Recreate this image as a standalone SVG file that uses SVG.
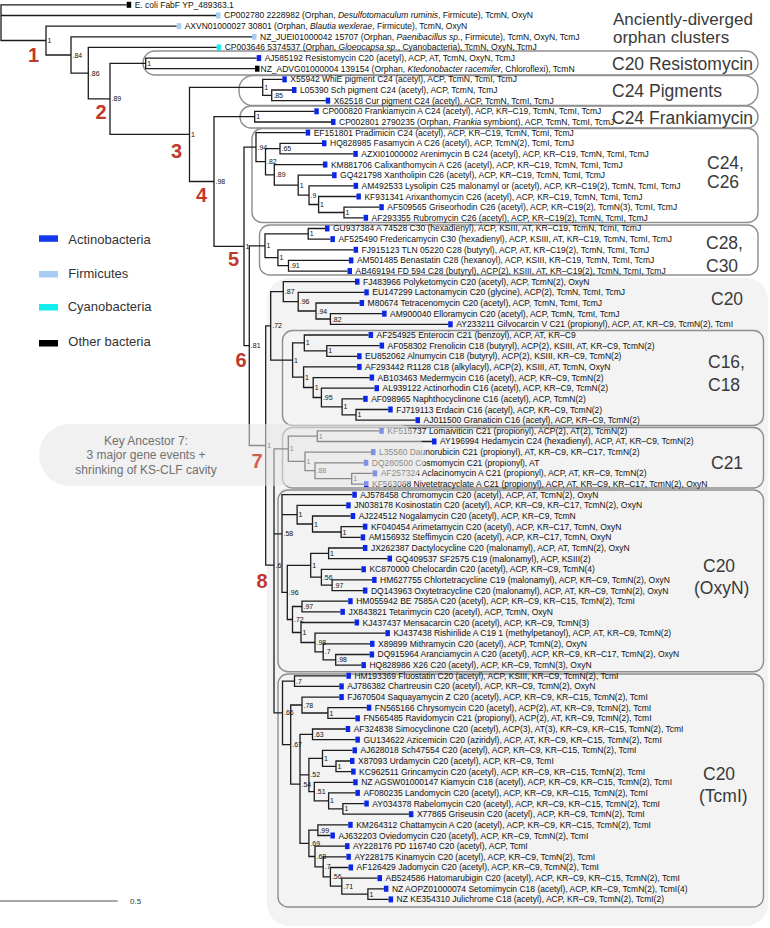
<svg xmlns="http://www.w3.org/2000/svg" width="770" height="928" viewBox="0 0 770 928">
<style>
.t{font-family:"Liberation Sans",Arial,sans-serif;font-size:8.5px;fill:#111}
.s{font-family:"Liberation Sans",Arial,sans-serif;font-size:7px;fill:#111}
.r{font-family:"Liberation Sans",Arial,sans-serif;font-size:20px;font-weight:bold;fill:#c0392b;text-anchor:middle}
.g{font-family:"Liberation Sans",Arial,sans-serif;font-size:17.5px;fill:#3a3a3a}
.lg{font-family:"Liberation Sans",Arial,sans-serif;font-size:13px;fill:#333}
.box{fill:none;stroke:#8e8e8e;stroke-width:1.4}
.br{fill:none;stroke:#1c1c1c;stroke-width:1.3}
.a{fill:#0a26e6}.f{fill:#a9ccf2}.c{fill:#14eeee}.k{fill:#000}
</style>
<rect x="267" y="278" width="501" height="648" rx="22" fill="#f3f3f3"/>
<g id="clades">
<rect class="box" x="143" y="51" width="615" height="24" rx="12"/>
<rect class="box" x="239" y="75.5" width="519" height="30" rx="14"/>
<rect class="box" x="240" y="106" width="518" height="22" rx="11"/>
<rect class="box" x="252" y="128.5" width="506" height="94" rx="10"/>
<rect class="box" x="259.5" y="225" width="498.5" height="50" rx="10"/>
<rect class="box" x="282.5" y="330.5" width="481" height="95" rx="10"/>
<rect class="box" x="282.5" y="427.5" width="481" height="60.5" rx="10"/>
<rect class="box" x="278" y="490" width="485.5" height="181.7" rx="10"/>
<rect class="box" x="278" y="674" width="485.5" height="233" rx="10"/>
</g>
<g id="connectors" class="br">
<path d="M126.7,4.8H1V40.5H46M1,15.5H216"/>
<path d="M176.7,26.1H46V55H71"/>
<path d="M252,36.8H71V73.2H88.3"/>
<path d="M216.7,47.4H88.3V98.9H110"/>
<path d="M145.7,63.4H110V134.4H189.5"/>
<path d="M256.7,58.1H145.7V68.7H255"/>
<path d="M262.7,87.3H189.5V181.5H214"/>
<path d="M282.3,79.4H262.7V95.3H271.7"/>
<path d="M292,90H271.7V100.7H325.7"/>
<path d="M254.7,116.6H214V246.4H244"/>
<path d="M314.3,111.3H254.7V122H331"/>
<path d="M256,147.2H244V345.6H249.3"/>
<path d="M305.7,132.6H256V161.7H265.5"/>
<path d="M280,148.6H265.5V174.9H274.3"/>
<path d="M322,143.3H280V153.9H353.3"/>
<path d="M322.9,164.6H274.3V185.2H298.2"/>
<path d="M332.1,175.2H298.2V195.2H309"/>
<path d="M353.6,185.9H309V204.5H318.6"/>
<path d="M356.4,196.5H318.6V212.5H344"/>
<path d="M379.3,207.2H344V217.8H363.6"/>
<path d="M265,245.8H249.3V445.5H265.7"/>
<path d="M308.2,233.8H265V257.7H277.9"/>
<path d="M325,228.5H308.2V239.1H330.4"/>
<path d="M353.6,249.8H277.9V265.7H288.5"/>
<path d="M348.9,260.4H288.5V271.1H347.5"/>
<path d="M270.7,325.9H265.7V565.2H274"/>
<path d="M283.3,291.7H270.7V360.1H292.6"/>
<path d="M355,281.7H283.3V301.7H298.2"/>
<path d="M364.3,292.4H298.2V311H316"/>
<path d="M359.6,303H316V319H330.4"/>
<path d="M382.1,313.7H330.4V324.3H448.2"/>
<path d="M304.3,342.9H292.6V377.2H303.6"/>
<path d="M368.6,335H304.3V350.9H326.8"/>
<path d="M379.6,345.6H326.8V356.3H357.1"/>
<path d="M357.1,366.9H303.6V387.5H313.2"/>
<path d="M369.6,377.6H313.2V397.5H321.4"/>
<path d="M374.5,388.2H321.4V406.8H342.1"/>
<path d="M363.2,398.9H342.1V414.8H356"/>
<path d="M388.2,409.5H356V420.2H415.5"/>
<path d="M288.3,448.8H274V712.8H282.5M274,533.9H282"/>
<path d="M317.3,436.1H288.3V461.4H305"/>
<path d="M379.3,430.8H317.3V441.5H432"/>
<path d="M371,452.1H305V470.7H315"/>
<path d="M363.8,462.8H315V478.7H351.7"/>
<path d="M372.7,473.4H351.7V484.1H364"/>
<path d="M352.3,494.7H282V592.4H287.3M282,514.7H297.1"/>
<path d="M346.2,505.4H297.1V524H312.5"/>
<path d="M350.7,516H312.5V532H341.1"/>
<path d="M362.9,526.7H341.1V537.3H360.7"/>
<path d="M310.7,565.3H287.3V619.5H292.5"/>
<path d="M328.6,553.3H310.7V577.2H321.4"/>
<path d="M362.9,548H328.6V558.6H387.5"/>
<path d="M361.4,569.3H321.4V585.2H332.1"/>
<path d="M372.1,579.9H332.1V590.6H362.9"/>
<path d="M302,606.5H292.5V632.5H301"/>
<path d="M348.2,601.2H302V611.9H340.4"/>
<path d="M354.6,622.5H301V642.5H315"/>
<path d="M385.4,633.2H315V651.8H323.2"/>
<path d="M370,643.8H323.2V659.8H335.7"/>
<path d="M369.6,654.5H335.7V665.1H361.4"/>
<path d="M294.5,681.1H282.5V744.6H290.7"/>
<path d="M346.4,675.8H294.5V686.4H339.3"/>
<path d="M302,705H290.7V784.2H300"/>
<path d="M339.3,697.1H302V713H327.9"/>
<path d="M366.8,707.7H327.9V718.4H355.4"/>
<path d="M312.5,734.3H300V843.3H308.9M300,774.9H308.9"/>
<path d="M345.7,729H312.5V739.7H355.4"/>
<path d="M322.5,758.3H308.9V791.6H314.3"/>
<path d="M352.5,750.3H322.5V766.3H336"/>
<path d="M350,761H336V771.6H351.1"/>
<path d="M353.2,782.3H314.3V800.9H328.6"/>
<path d="M355.4,792.9H328.6V808.9H342.9"/>
<path d="M364.3,803.6H342.9V814.2H408.9"/>
<path d="M317.9,830.2H308.9V856.5H315"/>
<path d="M348.2,824.9H317.9V835.5H330.4"/>
<path d="M345,846.2H315V866.8H323.2"/>
<path d="M346.4,856.8H323.2V876.8H330.4"/>
<path d="M348.6,867.5H330.4V886.1H341.8"/>
<path d="M377.5,878.1H341.8V894.1H367.9"/>
<path d="M383.9,888.8H367.9V899.4H388.6"/>
</g>
<g id="leaves">
<g id="n0"><rect class="k" x="126.7" y="1.8" width="4.5" height="6"/><text class="t" x="134.7" y="7.8">E. coli FabF YP_489363.1</text></g>
<g id="n1"><rect class="f" x="216" y="12.45" width="4.5" height="6"/><text class="t" x="224" y="18.45">CP002780 2228982 (Orphan, <tspan font-style="italic">Desulfotomaculum ruminis</tspan>, Firmicute), TcmN, OxyN</text></g>
<g id="n2"><rect class="f" x="176.7" y="23.1" width="4.5" height="6"/><text class="t" x="184.7" y="29.1">AXVN01000027 30801 (Orphan, <tspan font-style="italic">Blautia wexlerae</tspan>, Firmicute), TcmN, OxyN</text></g>
<g id="n3"><rect class="f" x="252" y="33.75" width="4.5" height="6"/><text class="t" x="260" y="39.75">NZ_JUEI01000042 15707 (Orphan, <tspan font-style="italic">Paenibacillus sp.</tspan>, Firmicute), TcmN, OxyN, TcmJ</text></g>
<g id="n4"><rect class="c" x="216.7" y="44.4" width="4.5" height="6"/><text class="t" x="224.7" y="50.4">CP003646 5374537 (Orphan, <tspan font-style="italic">Gloeocapsa sp.</tspan>, Cyanobacteria), TcmN, OxyN, TcmJ</text></g>
<g id="n5"><rect class="a" x="256.7" y="55.05" width="4.5" height="6"/><text class="t" x="264.7" y="61.05">AJ585192 Resistomycin C20 (acetyl), ACP, AT, TcmN, OxyN, TcmJ</text></g>
<g id="n6"><rect class="k" x="255" y="65.7" width="4.5" height="6"/><text class="t" x="260.5" y="71.7">NZ_ADVG01000004 139154 (Orphan, <tspan font-style="italic">Ktedonobacter racemifer</tspan>, Chloroflexi), TcmN</text></g>
<g id="n7"><rect class="a" x="282.3" y="76.35" width="4.5" height="6"/><text class="t" x="290.3" y="82.35">X55942 WhiE pigment C24 (acetyl), ACP, TcmN, TcmI, TcmJ</text></g>
<g id="n8"><rect class="a" x="292" y="87" width="4.5" height="6"/><text class="t" x="300" y="93">L05390 Sch pigment C24 (acetyl), ACP, TcmN, TcmJ</text></g>
<g id="n9"><rect class="a" x="325.7" y="97.65" width="4.5" height="6"/><text class="t" x="333.7" y="103.65">X62518 Cur pigment C24 (acetyl), ACP, TcmN, TcmI, TcmJ</text></g>
<g id="n10"><rect class="a" x="314.3" y="108.3" width="4.5" height="6"/><text class="t" x="322.3" y="114.3">CP000820 Frankiamycin A C24 (acetyl), ACP, KR–C19, TcmN, TcmI, TcmJ</text></g>
<g id="n11"><rect class="a" x="331" y="118.95" width="4.5" height="6"/><text class="t" x="339" y="124.95">CP002801 2790235 (Orphan, <tspan font-style="italic">Frankia</tspan> symbiont), ACP, TcmN, TcmI, TcmJ</text></g>
<g id="n12"><rect class="a" x="305.7" y="129.6" width="4.5" height="6"/><text class="t" x="313.7" y="135.6">EF151801 Pradimicin C24 (acetyl), ACP, KR–C19, TcmN, TcmI, TcmJ</text></g>
<g id="n13"><rect class="a" x="322" y="140.25" width="4.5" height="6"/><text class="t" x="330" y="146.25">HQ828985 Fasamycin A C26 (acetyl), ACP, TcmN(2), TcmI, TcmJ</text></g>
<g id="n14"><rect class="a" x="353.3" y="150.9" width="4.5" height="6"/><text class="t" x="361.3" y="156.9">AZXI01000002 Arenimycin B C24 (acetyl), ACP, KR–C19, TcmN, TcmI, TcmJ</text></g>
<g id="n15"><rect class="a" x="322.9" y="161.55" width="4.5" height="6"/><text class="t" x="330.9" y="167.55">KM881706 Calixanthomycin A C26 (acetyl), ACP, KR–C19, TcmN, TcmI, TcmJ</text></g>
<g id="n16"><rect class="a" x="332.1" y="172.2" width="4.5" height="6"/><text class="t" x="340.1" y="178.2">GQ421798 Xantholipin C26 (acetyl), ACP, KR–C19, TcmN, TcmI, TcmJ</text></g>
<g id="n17"><rect class="a" x="353.6" y="182.85" width="4.5" height="6"/><text class="t" x="361.6" y="188.85">AM492533 Lysolipin C25 malonamyl or (acetyl), ACP, KR–C19(2), TcmN, TcmI, TcmJ</text></g>
<g id="n18"><rect class="a" x="356.4" y="193.5" width="4.5" height="6"/><text class="t" x="364.4" y="199.5">KF931341 Arixanthomycin C26 (acetyl), ACP, KR–C19, TcmN, TcmI, TcmJ</text></g>
<g id="n19"><rect class="a" x="379.3" y="204.15" width="4.5" height="6"/><text class="t" x="387.3" y="210.15">AF509565 Griseorhodin C26 (acetyl), ACP, KR–C19(2), TcmN(3), TcmI, TcmJ</text></g>
<g id="n20"><rect class="a" x="363.6" y="214.8" width="4.5" height="6"/><text class="t" x="371.6" y="220.8">AF293355 Rubromycin C26 (acetyl), ACP, KR–C19(2), TcmN, TcmI, TcmJ</text></g>
<g id="n21"><rect class="a" x="325" y="225.45" width="4.5" height="6"/><text class="t" x="333" y="231.45">GU937384 A 74528 C30 (hexadienyl), ACP, KSIII, AT, KR–C19, TcmN, TcmI, TcmJ</text></g>
<g id="n22"><rect class="a" x="330.4" y="236.1" width="4.5" height="6"/><text class="t" x="338.4" y="242.1">AF525490 Fredericamycin C30 (hexadienyl), ACP, KSIII, AT, KR–C19, TcmN, TcmI, TcmJ</text></g>
<g id="n23"><rect class="a" x="353.6" y="246.75" width="4.5" height="6"/><text class="t" x="361.6" y="252.75">FJ915123 TLN 05220 C28 (butyryl), ACP, AT, KR–C19(2), TcmN, TcmI, TcmJ</text></g>
<g id="n24"><rect class="a" x="348.9" y="257.4" width="4.5" height="6"/><text class="t" x="356.9" y="263.4">AM501485 Benastatin C28 (hexanoyl), ACP, KSIII, KR–C19, TcmN, TcmI, TcmJ</text></g>
<g id="n25"><rect class="a" x="347.5" y="268.05" width="4.5" height="6"/><text class="t" x="355.5" y="274.05">AB469194 FD 594 C28 (butyryl), ACP(2), KSIII, AT, KR–C19(2), TcmN, TcmI, TcmJ</text></g>
<g id="n26"><rect class="a" x="355" y="278.7" width="4.5" height="6"/><text class="t" x="363" y="284.7">FJ483966 Polyketomycin C20 (acetyl), ACP, TcmN(2), OxyN</text></g>
<g id="n27"><rect class="a" x="364.3" y="289.35" width="4.5" height="6"/><text class="t" x="372.3" y="295.35">EU147299 Lactonamycin C20 (glycine), ACP(2), TcmN, TcmI, TcmJ</text></g>
<g id="n28"><rect class="a" x="359.6" y="300" width="4.5" height="6"/><text class="t" x="367.6" y="306">M80674 Tetracenomycin C20 (acetyl), ACP, TcmN, TcmI, TcmJ</text></g>
<g id="n29"><rect class="a" x="382.1" y="310.65" width="4.5" height="6"/><text class="t" x="390.1" y="316.65">AM900040 Elloramycin C20 (acetyl), ACP, TcmN, TcmI, TcmJ</text></g>
<g id="n30"><rect class="a" x="448.2" y="321.3" width="4.5" height="6"/><text class="t" x="456.2" y="327.3">AY233211 Gilvocarcin V C21 (propionyl), ACP, AT, KR–C9, TcmN(2), TcmI</text></g>
<g id="n31"><rect class="a" x="368.6" y="331.95" width="4.5" height="6"/><text class="t" x="376.6" y="337.95">AF254925 Enterocin C21 (benzoyl), ACP, AT, KR–C9</text></g>
<g id="n32"><rect class="a" x="379.6" y="342.6" width="4.5" height="6"/><text class="t" x="387.6" y="348.6">AF058302 Frenolicin C18 (butyryl), ACP(2), KSIII, AT, KR–C9, TcmN(2)</text></g>
<g id="n33"><rect class="a" x="357.1" y="353.25" width="4.5" height="6"/><text class="t" x="365.1" y="359.25">EU852062 Alnumycin C18 (butyryl), ACP(2), KSIII, KR–C9, TcmN(2)</text></g>
<g id="n34"><rect class="a" x="357.1" y="363.9" width="4.5" height="6"/><text class="t" x="365.1" y="369.9">AF293442 R1128 C18 (alkylacyl), ACP(2), KSIII, AT, TcmN, OxyN</text></g>
<g id="n35"><rect class="a" x="369.6" y="374.55" width="4.5" height="6"/><text class="t" x="377.6" y="380.55">AB103463 Medermycin C16 (acetyl), ACP, KR–C9, TcmN(2)</text></g>
<g id="n36"><rect class="a" x="374.5" y="385.2" width="4.5" height="6"/><text class="t" x="382.5" y="391.2">AL939122 Actinorhodin C16 (acetyl), ACP, KR–C9, TcmN(2)</text></g>
<g id="n37"><rect class="a" x="363.2" y="395.85" width="4.5" height="6"/><text class="t" x="371.2" y="401.85">AF098965 Naphthocyclinone C16 (acetyl), ACP, TcmN(2)</text></g>
<g id="n38"><rect class="a" x="388.2" y="406.5" width="4.5" height="6"/><text class="t" x="396.2" y="412.5">FJ719113 Erdacin C16 (acetyl), ACP, KR–C9, TcmN(2)</text></g>
<g id="n39"><rect class="a" x="415.5" y="417.15" width="4.5" height="6"/><text class="t" x="423.5" y="423.15">AJ011500 Granaticin C16 (acetyl), ACP, KR–C9, TcmN(2)</text></g>
<g id="n40"><rect class="a" x="379.3" y="427.8" width="4.5" height="6"/><text class="t" x="387.3" y="433.8">KF515737 Lomaiviticin C21 (propionyl), ACP(2), AT(2), TcmN(2)</text></g>
<g id="n41"><rect class="a" x="432" y="438.45" width="4.5" height="6"/><text class="t" x="440" y="444.45">AY196994 Hedamycin C24 (hexadienyl), ACP, AT, KR–C9, TcmN(2)</text></g>
<g id="n42"><rect class="a" x="371" y="449.1" width="4.5" height="6"/><text class="t" x="379" y="455.1">L35560 Daunorubicin C21 (propionyl), AT, KR–C9, KR–C17, TcmN(2)</text></g>
<g id="n43"><rect class="a" x="363.8" y="459.75" width="4.5" height="6"/><text class="t" x="371.8" y="465.75">DQ280500 Cosmomycin C21 (propionyl), AT</text></g>
<g id="n44"><rect class="a" x="372.7" y="470.4" width="4.5" height="6"/><text class="t" x="380.7" y="476.4">AF257324 Aclacinomycin A C21 (propionyl), ACP, AT, KR–C9, TcmN(2)</text></g>
<g id="n45"><rect class="a" x="364" y="481.05" width="4.5" height="6"/><text class="t" x="372" y="487.05">KF563088 Nivetetracyclate A C21 (propionyl), ACP, AT, KR–C9, KR–C17, TcmN(2), OxyN</text></g>
<g id="n46"><rect class="a" x="352.3" y="491.7" width="4.5" height="6"/><text class="t" x="360.3" y="497.7">AJ578458 Chromomycin C20 (acetyl), ACP, AT, TcmN(2), OxyN</text></g>
<g id="n47"><rect class="a" x="346.2" y="502.35" width="4.5" height="6"/><text class="t" x="354.2" y="508.35">JN038178 Kosinostatin C20 (acetyl), ACP, KR–C9, KR–C17, TcmN(2), OxyN</text></g>
<g id="n48"><rect class="a" x="350.7" y="513" width="4.5" height="6"/><text class="t" x="358.7" y="519">AJ224512 Nogalamycin C20 (acetyl), ACP, KR–C9, TcmN</text></g>
<g id="n49"><rect class="a" x="362.9" y="523.65" width="4.5" height="6"/><text class="t" x="370.9" y="529.65">KF040454 Arimetamycin C20 (acetyl), ACP, KR–C17, TcmN, OxyN</text></g>
<g id="n50"><rect class="a" x="360.7" y="534.3" width="4.5" height="6"/><text class="t" x="368.7" y="540.3">AM156932 Steffimycin C20 (acetyl), ACP, KR–C17, TcmN, OxyN</text></g>
<g id="n51"><rect class="a" x="362.9" y="544.95" width="4.5" height="6"/><text class="t" x="370.9" y="550.95">JX262387 Dactylocycline C20 (malonamyl), ACP, AT, TcmN(2), OxyN</text></g>
<g id="n52"><rect class="a" x="387.5" y="555.6" width="4.5" height="6"/><text class="t" x="395.5" y="561.6">GQ409537 SF2575 C19 (malonamyl), ACP, KSIII(2)</text></g>
<g id="n53"><rect class="a" x="361.4" y="566.25" width="4.5" height="6"/><text class="t" x="369.4" y="572.25">KC870000 Chelocardin C20 (acetyl), ACP, KR–C9, TcmN(4)</text></g>
<g id="n54"><rect class="a" x="372.1" y="576.9" width="4.5" height="6"/><text class="t" x="380.1" y="582.9">HM627755 Chlortetracycline C19 (malonamyl), ACP, KR–C9, TcmN(2), OxyN</text></g>
<g id="n55"><rect class="a" x="362.9" y="587.55" width="4.5" height="6"/><text class="t" x="370.9" y="593.55">DQ143963 Oxytetracycline C20 (malonamyl), ACP, AT, KR–C9, TcmN(2), OxyN</text></g>
<g id="n56"><rect class="a" x="348.2" y="598.2" width="4.5" height="6"/><text class="t" x="356.2" y="604.2">HM055942 BE 7585A C20 (acetyl), ACP, KR–C9, KR–C15, TcmN(2), TcmI</text></g>
<g id="n57"><rect class="a" x="340.4" y="608.85" width="4.5" height="6"/><text class="t" x="348.4" y="614.85">JX843821 Tetarimycin C20 (acetyl), ACP, TcmN, OxyN</text></g>
<g id="n58"><rect class="a" x="354.6" y="619.5" width="4.5" height="6"/><text class="t" x="362.6" y="625.5">KJ437437 Mensacarcin C20 (acetyl), ACP, KR–C9, TcmN(3)</text></g>
<g id="n59"><rect class="a" x="385.4" y="630.15" width="4.5" height="6"/><text class="t" x="393.4" y="636.15">KJ437438 Rishirilide A C19 1 (methylpetanoyl), ACP, AT, KR–C9, TcmN(2)</text></g>
<g id="n60"><rect class="a" x="370" y="640.8" width="4.5" height="6"/><text class="t" x="378" y="646.8">X89899 Mithramycin C20 (acetyl), ACP, TcmN(2), OxyN</text></g>
<g id="n61"><rect class="a" x="369.6" y="651.45" width="4.5" height="6"/><text class="t" x="377.6" y="657.45">DQ915964 Aranciamycin A C20 (acetyl), ACP, KR–C9, KR–C17, TcmN(2), OxyN</text></g>
<g id="n62"><rect class="a" x="361.4" y="662.1" width="4.5" height="6"/><text class="t" x="369.4" y="668.1">HQ828986 X26 C20 (acetyl), ACP, KR–C9, TcmN(3), OxyN</text></g>
<g id="n63"><rect class="a" x="346.4" y="672.75" width="4.5" height="6"/><text class="t" x="354.4" y="678.75">HM193369 Fluostatin C20 (acetyl), ACP, KSIII, KR–C9, TcmN(2), TcmI</text></g>
<g id="n64"><rect class="a" x="339.3" y="683.4" width="4.5" height="6"/><text class="t" x="347.3" y="689.4">AJ786382 Chartreusin C20 (acetyl), ACP, KR–C9, TcmN(2), OxyN</text></g>
<g id="n65"><rect class="a" x="339.3" y="694.05" width="4.5" height="6"/><text class="t" x="347.3" y="700.05">FJ670504 Saquayamycin Z C20 (acetyl), ACP, KR–C9, KR–C15, TcmN(2), TcmI</text></g>
<g id="n66"><rect class="a" x="366.8" y="704.7" width="4.5" height="6"/><text class="t" x="374.8" y="710.7">FN565166 Chrysomycin C20 (acetyl), ACP(2), AT, KR–C9, TcmN(2), TcmI</text></g>
<g id="n67"><rect class="a" x="355.4" y="715.35" width="4.5" height="6"/><text class="t" x="363.4" y="721.35">FN565485 Ravidomycin C21 (propionyl), ACP(2), AT, KR–C9, TcmN(2), TcmI</text></g>
<g id="n68"><rect class="a" x="345.7" y="726" width="4.5" height="6"/><text class="t" x="353.7" y="732">AF324838 Simocyclinone C20 (acetyl), ACP(3), AT(3), KR–C9, KR–C15, TcmN(2), TcmI</text></g>
<g id="n69"><rect class="a" x="355.4" y="736.65" width="4.5" height="6"/><text class="t" x="363.4" y="742.65">GU134622 Azicemicin C20 (aziridyl), ACP, AT, KR–C9, KR–C15, TcmN(2), TcmI</text></g>
<g id="n70"><rect class="a" x="352.5" y="747.3" width="4.5" height="6"/><text class="t" x="360.5" y="753.3">AJ628018 Sch47554 C20 (acetyl), ACP, KR–C9, KR–C15, TcmN(2), TcmI</text></g>
<g id="n71"><rect class="a" x="350" y="757.95" width="4.5" height="6"/><text class="t" x="358" y="763.95">X87093 Urdamycin C20 (acetyl), ACP, KR–C9, TcmI</text></g>
<g id="n72"><rect class="a" x="351.1" y="768.6" width="4.5" height="6"/><text class="t" x="359.1" y="774.6">KC962511 Grincamycin C20 (acetyl), ACP, KR–C9, KR–C15, TcmN(2), TcmI</text></g>
<g id="n73"><rect class="a" x="353.2" y="779.25" width="4.5" height="6"/><text class="t" x="361.2" y="785.25">NZ AGSW01000147 Kiamycin C18 (acetyl), ACP, KR–C9, KR–C15, TcmN(2), TcmI</text></g>
<g id="n74"><rect class="a" x="355.4" y="789.9" width="4.5" height="6"/><text class="t" x="363.4" y="795.9">AF080235 Landomycin C20 (acetyl), ACP, KR–C9, KR–C15, TcmN(2), TcmI</text></g>
<g id="n75"><rect class="a" x="364.3" y="800.55" width="4.5" height="6"/><text class="t" x="372.3" y="806.55">AY034378 Rabelomycin C20 (acetyl), ACP, KR–C9, KR–C15, TcmN(2), TcmI</text></g>
<g id="n76"><rect class="a" x="408.9" y="811.2" width="4.5" height="6"/><text class="t" x="416.9" y="817.2">X77865 Griseusin C20 (acetyl), ACP, KR–C9, TcmN(2), TcmI</text></g>
<g id="n77"><rect class="a" x="348.2" y="821.85" width="4.5" height="6"/><text class="t" x="356.2" y="827.85">KM264312 Chattamycin A C20 (acetyl), ACP, KR–C9, KR–C15, TcmN(2), TcmI</text></g>
<g id="n78"><rect class="a" x="330.4" y="832.5" width="4.5" height="6"/><text class="t" x="338.4" y="838.5">AJ632203 Oviedomycin C20 (acetyl), ACP, KR–C9, TcmN(2), TcmI</text></g>
<g id="n79"><rect class="a" x="345" y="843.15" width="4.5" height="6"/><text class="t" x="353" y="849.15">AY228176 PD 116740 C20 (acetyl), ACP, TcmI</text></g>
<g id="n80"><rect class="a" x="346.4" y="853.8" width="4.5" height="6"/><text class="t" x="354.4" y="859.8">AY228175 Kinamycin C20 (acetyl), ACP, KR–C9, TcmN(2), TcmI</text></g>
<g id="n81"><rect class="a" x="348.6" y="864.45" width="4.5" height="6"/><text class="t" x="356.6" y="870.45">AF126429 Jadomycin C20 (acetyl), ACP, KR–C9, TcmN(2), TcmI</text></g>
<g id="n82"><rect class="a" x="377.5" y="875.1" width="4.5" height="6"/><text class="t" x="385.5" y="881.1">AB524586 Hatomarubigin C20 (acetyl), ACP, KR–C9, KR–C15, TcmN(2), TcmI</text></g>
<g id="n83"><rect class="a" x="383.9" y="885.75" width="4.5" height="6"/><text class="t" x="391.9" y="891.75">NZ AOPZ01000074 Setomimycin C18 (acetyl), ACP, KR–C9, TcmN(2), TcmI(4)</text></g>
<g id="n84"><rect class="a" x="388.6" y="896.4" width="4.5" height="6"/><text class="t" x="396.6" y="902.4">NZ KE354310 Julichrome C18 (acetyl), ACP, KR–C9, TcmN(2), TcmI(2)</text></g>
</g>
<g id="support" class="s">
<text x="47.5" y="43">1</text><text x="72.5" y="57.5">.84</text><text x="89.8" y="75.7">.86</text><text x="111.5" y="101.4">.89</text>
<text x="147.2" y="65.9">1</text><text x="191" y="136.9">1</text><text x="264.2" y="89.8">1</text><text x="273.2" y="97.8">.85</text>
<text x="215.5" y="184">.98</text><text x="256.2" y="119.1">1</text><text x="245.5" y="248.9">1</text><text x="257.5" y="149.7">.94</text>
<text x="267" y="164.2">.82</text><text x="281.5" y="151.1">.65</text><text x="275.8" y="177.4">.89</text><text x="299.7" y="187.7">1</text>
<text x="310.5" y="197.7">.9</text><text x="320.1" y="207">1</text><text x="345.5" y="215">1</text><text x="250.8" y="348.1">.81</text>
<text x="266.5" y="248.3">1</text><text x="309.7" y="236.3">1</text><text x="279.4" y="260.2">1</text><text x="290" y="268.2">.91</text>
<text x="267.2" y="448">1</text><text x="272.2" y="328.4">.72</text><text x="284.8" y="294.2">.87</text><text x="299.7" y="304.2">.96</text>
<text x="317.5" y="313.5">.94</text><text x="331.9" y="321.5">.82</text><text x="294.1" y="362.6">1</text><text x="305.8" y="345.4">1</text>
<text x="328.3" y="353.4">1</text><text x="305.1" y="379.7">1</text><text x="314.7" y="390">1</text><text x="322.9" y="400">.95</text>
<text x="343.6" y="409.3">1</text><text x="357.5" y="417.3">1</text><text x="275.5" y="567.7">.6</text><text x="289.8" y="451.3">1</text>
<text x="318.8" y="438.6">1</text><text x="306.5" y="463.9">1</text><text x="316.5" y="473.2">.88</text><text x="353.2" y="481.2">1</text>
<text x="283.5" y="536.4">.58</text><text x="298.6" y="517.2">1</text><text x="314" y="526.5">1</text><text x="342.6" y="534.5">1</text>
<text x="288.8" y="594.9">.96</text><text x="312.2" y="567.8">1</text><text x="330.1" y="555.8">1</text><text x="322.9" y="579.7">.56</text>
<text x="333.6" y="587.7">.97</text><text x="294" y="622">.72</text><text x="303.5" y="609">.97</text><text x="302.5" y="635">1</text>
<text x="316.5" y="645">.98</text><text x="324.7" y="654.3">.7</text><text x="337.2" y="662.3">.98</text><text x="284" y="715.3">.66</text>
<text x="296" y="683.6">.7</text><text x="292.2" y="747.1">.67</text><text x="303.5" y="707.5">.78</text><text x="329.4" y="715.5">1</text>
<text x="301.5" y="786.7">.54</text><text x="314" y="736.8">.63</text><text x="310.4" y="777.4">.52</text><text x="324" y="760.8">1</text>
<text x="337.5" y="768.8">1</text><text x="315.8" y="794.1">.51</text><text x="330.1" y="803.4">1</text><text x="344.4" y="811.4">1</text>
<text x="310.4" y="845.8">.69</text><text x="319.4" y="832.7">.99</text><text x="316.5" y="859">.68</text><text x="324.7" y="869.3">.7</text>
<text x="331.9" y="879.3">.56</text><text x="343.3" y="888.6">.71</text><text x="369.4" y="896.6">1</text>
</g>
<g id="ancestors" class="r">
<text x="33.5" y="62">1</text><text x="101" y="119">2</text><text x="176.5" y="158">3</text><text x="201.5" y="202">4</text>
<text x="233.5" y="266">5</text><text x="241" y="367">6</text><text x="262" y="588">8</text>
</g>
<g id="legend">
<rect x="39" y="235.3" width="19" height="6.5" fill="#1438ee"/><text class="lg" x="68.3" y="243.5">Actinobacteria</text>
<rect x="39" y="271" width="19" height="6.5" fill="#a9ccf2"/><text class="lg" x="68.3" y="277.5">Firmicutes</text>
<rect x="39" y="304" width="19" height="6.5" fill="#14eeee"/><text class="lg" x="67.7" y="311">Cyanobacteria</text>
<rect x="39" y="340" width="19" height="6.5" fill="#000"/><text class="lg" x="68.3" y="346">Other bacteria</text>
</g>
<g id="key-ancestor-7">
<rect x="39" y="424" width="386" height="62" rx="31" fill="#e6e6e6" fill-opacity="0.55"/>
<text class="r" x="257" y="468" style="fill:#cf5d4f">7</text>
<text x="146" y="444.6" text-anchor="middle" style="font-family:'Liberation Sans',Arial,sans-serif;font-size:12px;fill:#707070">Key Ancestor 7:</text>
<text x="146" y="459.3" text-anchor="middle" style="font-family:'Liberation Sans',Arial,sans-serif;font-size:12px;fill:#707070">3 major gene events +</text>
<text x="146" y="474" text-anchor="middle" style="font-family:'Liberation Sans',Arial,sans-serif;font-size:12px;fill:#707070">shrinking of KS-CLF cavity</text>
</g>
<g id="clade-labels" class="g">
<text x="613" y="25" style="font-size:17px">Anciently-diverged</text>
<text x="613" y="43" style="font-size:17px">orphan clusters</text>
<text x="612" y="69.5">C20 Resistomycin</text>
<text x="612" y="97">C24 Pigments</text>
<text x="612" y="123.5">C24 Frankiamycin</text>
<text x="707" y="169">C24,</text><text x="707" y="187.5">C26</text>
<text x="706" y="249">C28,</text><text x="706" y="271.5">C30</text>
<text x="711" y="305">C20</text>
<text x="708" y="367.5">C16,</text><text x="708" y="391">C18</text>
<text x="711" y="469.3">C21</text>
<text x="703" y="571.5">C20</text><text x="694" y="593.5">(OxyN)</text>
<text x="703" y="780">C20</text><text x="699" y="802">(TcmI)</text>
</g>
<g id="scale">
<path d="M0,901H117.7" stroke="#8a8a8a" stroke-width="1.3"/>
<text x="130" y="904" style="font-family:'Liberation Sans',Arial,sans-serif;font-size:8px;fill:#333">0.5</text>
</g>
</svg>
